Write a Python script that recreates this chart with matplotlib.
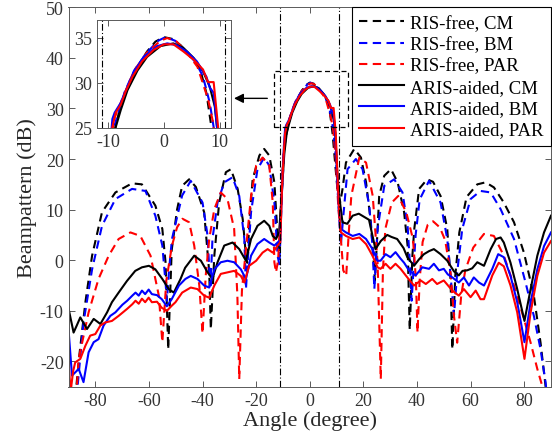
import matplotlib
matplotlib.use("Agg")
import matplotlib.pyplot as plt

plt.rcParams['font.family'] = ['Liberation Serif', 'DejaVu Serif']
plt.rcParams['axes.unicode_minus'] = False

# RIS-free, CM (black dashed)
free_cm_deg = [-88, -86, -83.7, -81.2, -77.5, -72.5, -66.3, -62.6, -57.6, -55, -53.8, -52.8,
               -51.5, -49.5, -47.6, -45, -42.5, -39.4, -37.5, -36.9, -35.6, -33.8, -31.3, -29.4,
               -26.9, -25, -23.8, -23.3, -22.5, -21.3, -18.8, -17, -15.1, -13.2, -12, -11.3,
               -10.5, -9.6, -8.6, -7.7, -6.5, -5, -3, -1.5, 0, 1.5, 3, 4.5, 6.5, 7.6, 8.5,
               9.5, 10.5, 11.4, 12.2, 13.5, 16.6, 19.1, 21, 22.8, 24.1, 24.3, 25.2, 25.9, 27.8,
               30.3, 32.8, 35.2, 36.5, 37.3, 38.3, 39, 40.8, 43.8, 46, 48.8, 51.3, 52.5, 53.2,
               54.3, 55.8, 58.5, 62.5, 65.6, 68.7, 72.4, 76.2, 79.9, 83.6, 86.1, 88, 89]
free_cm_db = [-30, -19, -8.3, 0.9, 9.5, 13.4, 15.2, 15, 10.8, 6.2, -0.4, -17.6,
              2, 10, 14.7, 16, 14.5, 9.5, -2.4, -13.6, 0.9, 11.4, 17.4, 18.0,
              14.1, 8.1, 0.9, -0.5, 8, 16, 20.7, 22, 20.7, 15.4, 4.8, 2,
              14, 22, 25.3, 27.5, 29.5, 31.5, 33.5, 34.6, 35.1, 34.9, 34.2, 33.2, 31.5, 28.9, 25.1,
              19, 13, 11.5, 14, 19.3, 22, 20.3, 15.4, 7.5, -2.4, -4, 5, 12.7, 16.7,
              18, 15.4, 9.5, 2.9, -13.8, 1, 6.2, 14.1, 16, 15.5, 12.7, 6.2, -3.7, -17.6,
              -3, 5.5, 12.5, 15, 15.4, 14.4, 11.4, 7.5, 1.5, -7, -16.3, -25, -32]

# RIS-free, BM (blue dashed)
free_bm_deg = [-87.5, -84.4, -81.2, -77.5, -72.5, -66.3, -61.3, -57.6, -55, -53.8, -53.3, -52.5,
               -51.4, -47.6, -44.4, -40, -38.1, -37.5, -37, -36.3, -34.4, -31.9, -28.8, -26.3,
               -24.4, -23.8, -23, -21.9, -19.5, -17, -15.1, -13.2, -12, -11.3, -10.5, -9.5,
               -8.8, -7, -5.3, -3, -1, 0.3, 2, 4, 5.8, 7, 8.2, 8.9, 9.8, 10.8, 11.6, 12.4,
               14.1, 17.2, 19.7, 22.2, 23.4, 24.1, 25.3, 27.8, 31.5, 34.6, 36.5, 37.5, 38,
               39.5, 41, 44.5, 48.8, 51.3, 53.2, 53.8, 55, 56.9, 60, 63.7, 67.5, 71.2, 76.2,
               80.5, 83.6, 86.1, 88, 89]
free_bm_db = [-30, -12.3, -1.8, 6.8, 12.1, 14.1, 13.7, 8.8, 2.9, -4.4, -8, -2,
              4.2, 12.8, 15.7, 11.4, 4.8, -1.7, -5, 4.2, 11.4, 15.4, 16.4, 12.7,
              4.2, -5.7, 1, 9.5, 18, 20.3, 18.7, 11.4, 0.9, -1, 12, 22,
              25.3, 29, 31.4, 33.4, 34.7, 35.1, 34.7, 33.5, 32.2, 30.7, 27.8, 25.1, 20, 10, 3, 8,
              18, 20, 18, 10.8, 2.9, -5.7, 6.2, 14.7, 16, 13.4, 6.8, -1.8, -8,
              5, 12, 15.7, 11.4, 4.2, -7, -11, -2.4, 6.2, 12.1, 13.7, 13.4, 10.1, 4.2,
              -4.4, -11, -17.6, -24.2, -30]

# RIS-free, PAR (red dashed)
free_par_deg = [-87.5, -86.2, -82.5, -78.8, -75, -71.3, -66.9, -63.2, -59.4, -56.3, -55, -53.5,
                -51.4, -49.5, -47.5, -45, -43.1, -41.2, -40, -38.8, -37.5, -35.6, -33.2, -30.7,
                -28.2, -27, -26.3, -25.3, -23.8, -21.9, -20, -17.6, -15.1, -13.8, -13.2, -12.6,
                -11.8, -10.8, -10, -8.9, -7, -5.3, -3, -0.6, 0.6, 2.3, 4.1, 6, 7.9, 8.8, 9.7,
                10.6, 11.5, 12.5, 13.6, 14.5, 15.5, 18.5, 21, 23.5, 25.3, 26.5, 27.3, 28.2,
                30.6, 33, 36, 38.5, 39.6, 40.2, 41, 42.1, 44, 46, 48.5, 50.5, 52.5, 53.8, 55,
                56.5, 58, 61, 65, 68.7, 72.4, 76.2, 79.9, 82.4, 84.9, 86.7, 88]
free_par_db = [-30, -19.5, -10.3, -3.7, 0.9, 4.2, 5.5, 4.8, 0.9, -7, -16.2, -4,
               2.9, 6.5, 8.2, 7.5, 2.9, -5, -14.5, -3, 4.2, 10.1, 13.4, 12.1,
               6.2, -7, -23.5, -6, 2.2, 12.7, 18.7, 20.3, 18.7, 11.4, -0.4, -2.4,
               0, 10, 19, 26, 28.9, 31.4, 33.4, 34.7, 35, 34.6, 33.4, 31.8, 28.2, 25.6, 20,
               11, 5, -2, -3.1, 5, 12.7, 20.3, 19.3, 12.7, -0.4, -23.5, -2, 6.2,
               11.4, 12.7, 9.5, 4.2, -3.7, -14.3, -4, 3.6, 7, 7.7, 6.5, 4, -2.4, -11, -16.3,
               -7, -2, 2.5, 5.2, 4.8, 0.9, -5, -11.6, -16.3, -21.5, -24.8, -30]

# ARIS-aided, CM (black solid)
aris_cm_deg = [-90, -88.1, -87, -85.6, -83.1, -80.6, -78.1, -75.6, -73.8, -71.3, -68.2, -65.1,
               -62.6, -60, -57.6, -55, -52.6, -50.7, -48.2, -46.5, -43.1, -40.6, -38.1, -36.3,
               -34.4, -31.9, -28.8, -26.3, -23.8, -21.9, -19.5, -17, -15.1, -13.8, -12.6, -11.4,
               -10.6, -9.5, -8.6, -7.7, -6.5, -4.7, -3, -0.6, 1.7, 3.5, 5.3, 7, 8.2, 9.1, 9.5,
               10.2, 11, 12.2, 14, 16, 18.3, 22.1, 24.5, 26.5, 28.9, 30.5, 32.6, 35, 36.4, 38.9,
               40.8, 42.6, 44.5, 46.3, 48.8, 51.3, 53.8, 55.6, 57, 58.7, 60.6, 62.5, 65, 67.5,
               69.5, 71.2, 72.4, 74.9, 77.4, 80.1, 82.4, 84.9, 87.4, 90]
aris_cm_db = [-9.5, -14.3, -13, -11.3, -13.6, -11.6, -12.6, -10.3, -8.3, -6.4, -4.1, -2.1,
              -1.4, -1.1, -1.8, -3.7, -5.7, -6.4, -3.7, -1.5, 0.9, -0.1, -2.4, -3.7,
              -0.4, 2.9, 3.5, 2.2, -0.1, 4.2, 6.8, 7.8, 6.8, 4.8, 4.2, 5.5,
              12, 21, 25.1, 27, 29.2, 31.4, 32.9, 34.1, 34.4, 33.9, 32.8, 31.3, 29.6, 27.4, 25.1,
              18, 12.7, 7.5, 7.2, 8.8, 9.2, 8, 2.2, 3.8, 5, 4.6, 4.2, 2.4, 0.6, -1.1,
              0.2, 1.2, 1.8, 2.2, 1.2, -0.1, -2.2, -3, -2.1, -2, -1.6, -0.4, -1.1, 2.2,
              4.2, 4.5, 3.5, -0.5, -5.7, -12, -5.7, 0.9, 5.5, 8.8]

# ARIS-aided, BM (blue solid)
aris_bm_deg = [-90, -88.7, -86.2, -84.4, -82.5, -80.6, -78.8, -76.9, -74.4, -72.5, -69.9, -68.1,
               -66.2, -65, -63.8, -62.6, -61.4, -60.1, -58.9, -57, -55.2, -53.3, -51.5, -48.8,
               -46.4, -44.4, -41.9, -39.4, -37.5, -35.6, -33.2, -30.7, -28.2, -25.7, -23.8, -21.9,
               -19.5, -17, -15.1, -13.2, -12, -11, -10.4, -9.6, -9.2, -8.8, -7.7, -6.5, -5.3,
               -3.6, -1.2, 0.6, 2.3, 4.1, 5.9, 7.6, 8.2, 8.9, 9.5, 10.3, 11, 11.6, 13.5, 16,
               18.5, 21, 23.4, 25.3, 26.4, 28.3, 30.1, 32, 33.9, 35.2, 37, 39.5, 42, 44.5, 46.3,
               48.2, 50, 51.5, 53.2, 55.6, 57.5, 59.4, 61.2, 63.1, 65, 68.1, 70.3, 72.4, 74.9,
               77.4, 80.1, 82.4, 84.9, 87.4, 90]
aris_bm_db = [-13.6, -22.8, -21.5, -24.1, -18.2, -16.2, -15.6, -12.9, -11, -10.3, -8.8, -8,
              -7, -6.4, -7, -6, -6.7, -5.8, -6.7, -6.9, -7.7, -9.1, -7.7, -5,
              -3.7, -3.1, -3.7, -5, -5.4, -1.8, -0.4, -0.1, -0.4, -1.8, -3.7, 0.9,
              3.2, 4.2, 3.5, 2.9, 3.5, 4, 14, 23, 26, 26.7, 27.8, 29.6, 31.3,
              32.9, 34.1, 34.4, 34.2, 33.5, 32.4, 30.7, 29.5, 28.9, 25.1, 16, 9, 6.2, 5.5, 4.8,
              5.2, 4.2, 2.2, -0.1, -0.1, 1.2, 0.6, 1.6, 0.3, -0.5, -2, -3, -1.4, -1.7, -0.7,
              -2, -1.7, -2.8, -3.4, -4.4, -3.4, -5, -3.4, -4.4, -5, -1.7, 1.2, 0.6, -3.1,
              -8.3, -16.2, -8.3, -1.8, 2.8, 5.5]

# ARIS-aided, PAR (red solid)
aris_par_deg = [-90, -89.2, -88.3, -87.5, -85.6, -83.7, -81.9, -80, -78.1, -76.3, -73.8, -71.3,
                -68.1, -66.2, -65, -63.8, -62.6, -61.4, -60.1, -58.9, -57, -55.2, -53.3, -51.5,
                -50.1, -47.6, -44.4, -41.9, -39.4, -37.5, -35.6, -33.2, -30.7, -28.2, -25.7, -24.4,
                -22.6, -20, -17.6, -15.7, -13.8, -12, -11, -10.3, -9.6, -9.2, -8.6, -7.7, -6.8,
                -5.6, -3.9, -1.8, 0, 1.7, 3.5, 5.3, 7, 7.9, 8.9, 9.7, 10.4, 11, 11.6, 13.5, 16,
                18.5, 21, 23.4, 25.3, 26.4, 28.3, 30.1, 32, 33.9, 36.4, 38.9, 41.4, 43.3, 45.7,
                47.5, 50, 53.2, 55.6, 57.5, 60, 61.9, 63.7, 65, 68.1, 70.5, 72.4, 74.9, 77.4,
                80.1, 82.4, 84.9, 87.4, 90]
aris_par_db = [-20, -26, -22, -20.2, -19.5, -16.9, -14.9, -14.6, -12.9, -12.3, -12, -11,
               -9.6, -8.7, -8, -8.6, -7.6, -8.3, -7.4, -8.3, -8.2, -9.4, -10, -9,
               -8.3, -6.4, -5.4, -5.7, -7, -7.4, -5, -2.7, -2.4, -2.1, -3.1, -4.4,
               -1.1, -0.1, 1.5, 2.2, 1.5, 2.9, 3.5, 15, 22, 25.1, 26.7, 27.6, 29.1,
               30.7, 32.4, 33.7, 34.3, 34.3, 33.5, 32.6, 31.5, 30.1, 30.1, 25.1, 16, 9, 5.5, 4.8, 4.2,
               4.5, 3.2, 0.9, -1.4, -1.7, -0.7, -1.7, -0.7, -1.7, -3.4, -5, -4, -4.7, -3.7,
               -4.7, -4, -6, -7, -5.7, -7.3, -6, -7.7, -7.7, -3, -0.5, -1.2, -5, -10.3,
               -19.5, -10.3, -3.1, 1.5, 3.8]

labels = ['RIS-free, CM', 'RIS-free, BM', 'RIS-free, PAR',
          'ARIS-aided, CM', 'ARIS-aided, BM', 'ARIS-aided, PAR']
series = [(free_cm_deg, free_cm_db), (free_bm_deg, free_bm_db), (free_par_deg, free_par_db),
          (aris_cm_deg, aris_cm_db), (aris_bm_deg, aris_bm_db), (aris_par_deg, aris_par_db)]
colors = ['k', 'b', 'r', 'k', 'b', 'r']
styles = ['--', '--', '--', '-', '-', '-']

fig = plt.figure(figsize=(5.52, 4.39), dpi=100)
ax = fig.add_axes([68.5 / 552, 1 - 387.7 / 439, 482.5 / 552, 379.4 / 439])


def draw(a, lw):
    for (xs, ys), c, s, lab in zip(series, colors, styles, labels):
        if s == '--':
            a.plot(xs, ys, color=c, lw=lw, dashes=(4, 2.6), label=lab)
        else:
            a.plot(xs, ys, color=c, lw=lw, ls='-', label=lab)
    for xv in (-11, 11):
        a.axvline(xv, color='k', lw=0.8, ls='-.', dashes=(6, 2, 1, 2))


def style(a):
    for sp in a.spines.values():
        sp.set_color('0.35')
        sp.set_linewidth(0.7)
    a.tick_params(direction='in', top=True, right=True, colors='0.35',
                  labelcolor='0.2', labelsize=13, length=4, width=0.7)


draw(ax, 1.5)
ax.set_xlim(-90, 90)
ax.set_ylim(-25, 50)
ax.set_xticks(range(-80, 81, 20))
ax.set_yticks(range(-20, 51, 10))
style(ax)
ax.set_xlabel('Angle (degree)', fontsize=16, color='0.15', labelpad=1)
ax.set_ylabel('Beampattern (dB)', fontsize=16, color='0.15', labelpad=2)

# zoom box and arrow
ax.plot([-13.2, 14.1, 14.1, -13.2, -13.2], [26.3, 26.3, 37.4, 37.4, 26.3],
        color='k', lw=0.9, dashes=(4, 2.6))
ax.annotate('', xy=(-29.3, 32), xytext=(-14.8, 32),
            arrowprops=dict(arrowstyle='-|>', color='k', lw=1, mutation_scale=14))

leg = ax.legend(loc='upper right', fontsize=13.5, frameon=True, fancybox=False,
                framealpha=1, edgecolor='k', borderaxespad=0, handlelength=2.4,
                labelspacing=0.22, borderpad=0.4, handletextpad=0.3)
leg.get_frame().set_linewidth(0.8)

# inset
ins = fig.add_axes([96.7 / 552, 1 - 129 / 439, 134.3 / 552, 108 / 439])
draw(ins, 1.5)
ins.set_xlim(-12, 12)
ins.set_ylim(25, 37)
ins.set_xticks([-10, 0, 10])
ins.set_yticks([25, 30, 35])
style(ins)

fig.savefig('out.png', dpi=100)
